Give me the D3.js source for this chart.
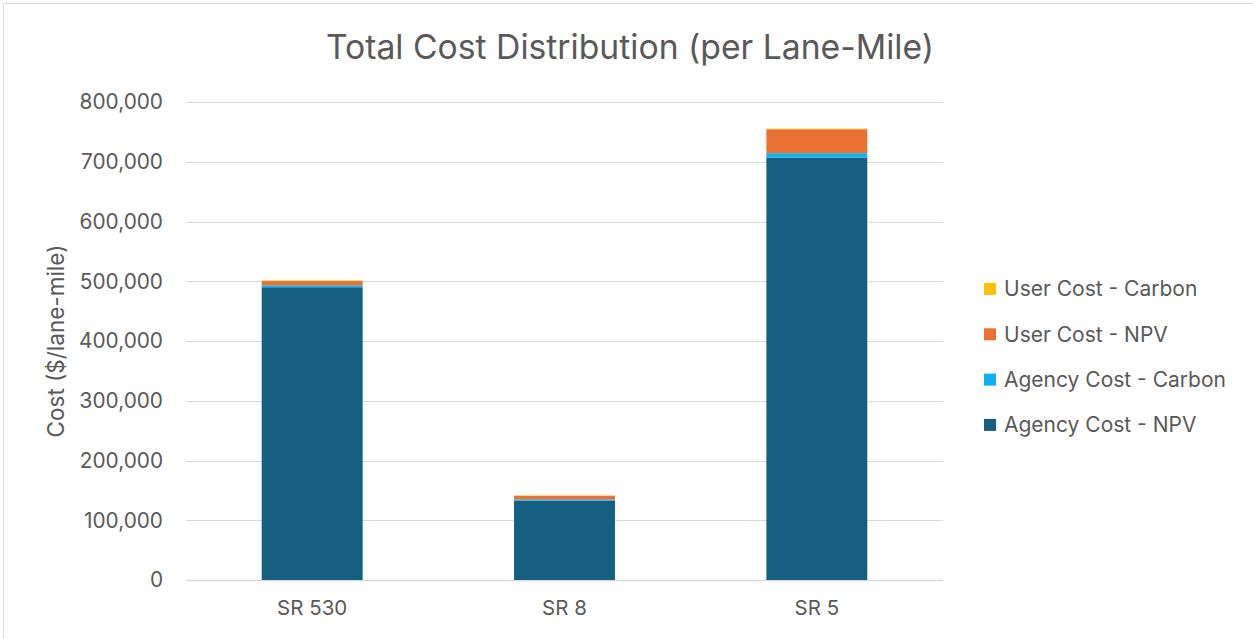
<!DOCTYPE html>
<html>
<head>
<meta charset="utf-8">
<script src="https://cdn.jsdelivr.net/npm/d3@7"></script>
<style>
  body { margin: 0; background: #fff; }
  text { font-family: "Inter", "Open Sans", sans-serif; fill: #595959; }
</style>
</head>
<body>
<script>
const WIDTH = 1253;
const HEIGHT = 639;
const MARGIN = { top: 102, right: 310, bottom: 59, left: 186 };

// data
const routes = ["SR 530", "SR 8", "SR 5"];
const agencyNpv = [490000, 133000, 707000];
const agencyCarbon = [3300, 2000, 7400];
const userNpv = [7000, 6000, 40000];
const userCarbon = [1000, 600, 1000];
const seriesNames = ["Agency Cost - NPV", "Agency Cost - Carbon", "User Cost - NPV", "User Cost - Carbon"];
const seriesColors = ["#156082", "#0fb0f0", "#e97132", "#ffc000"];
const yTicks = [0, 100000, 200000, 300000, 400000, 500000, 600000, 700000, 800000];

const rows = routes.map((r, i) => ({
    route: r,
    [seriesNames[0]]: agencyNpv[i],
    [seriesNames[1]]: agencyCarbon[i],
    [seriesNames[2]]: userNpv[i],
    [seriesNames[3]]: userCarbon[i],
}));

const svg = d3.select("body").append("svg")
    .attr("width", WIDTH)
    .attr("height", HEIGHT);

// chart frame
svg.append("rect")
    .attr("x", 3.5).attr("y", 3.5)
    .attr("width", WIDTH + 10).attr("height", HEIGHT + 10)
    .attr("fill", "none")
    .attr("stroke", "#d9d9d9");

const plotW = 943 - MARGIN.left;
const plotH = 580 - MARGIN.top;

const x = d3.scaleBand().domain(routes).range([0, plotW]).paddingInner(0.6).paddingOuter(0.3);
const y = d3.scaleLinear().domain([0, 800000]).range([plotH, 0]);

const g = svg.append("g").attr("transform", `translate(${MARGIN.left},${MARGIN.top})`);

// gridlines
g.selectAll("line.grid")
    .data(yTicks)
    .join("line")
    .attr("class", "grid")
    .attr("x1", 0).attr("x2", plotW)
    .attr("y1", d => Math.round(y(d)) + 0.5)
    .attr("y2", d => Math.round(y(d)) + 0.5)
    .attr("stroke", "#d9d9d9")
    .attr("stroke-width", d => d === 0 ? 1.5 : 1);

// y labels
g.selectAll("text.ytick")
    .data(yTicks)
    .join("text")
    .attr("class", "ytick")
    .attr("x", -23)
    .attr("y", d => y(d))
    .attr("dy", "0.35em")
    .attr("text-anchor", "end")
    .attr("font-size", 20.8)
    .text(d => d3.format(",")(d));

const stack = d3.stack().keys(seriesNames);
const layers = stack(rows);

g.selectAll("g.layer")
    .data(layers)
    .join("g")
    .attr("class", "layer")
    .attr("fill", (d, i) => seriesColors[i])
    .selectAll("rect")
    .data(d => d)
    .join("rect")
    .attr("x", d => x(d.data.route))
    .attr("width", x.bandwidth())
    .attr("y", d => y(d[1]))
    .attr("height", d => y(d[0]) - y(d[1]));

// x labels
g.selectAll("text.xtick")
    .data(routes)
    .join("text")
    .attr("class", "xtick")
    .attr("x", d => x(d) + x.bandwidth() / 2)
    .attr("y", plotH + 35)
    .attr("text-anchor", "middle")
    .attr("font-size", 20.5)
    .text(d => d);

// y axis title
svg.append("text")
    .attr("transform", `translate(64,${MARGIN.top + plotH / 2}) rotate(-90)`)
    .attr("text-anchor", "middle")
    .attr("font-size", 22.5)
    .text("Cost ($/lane-mile)");

// title
svg.append("text")
    .attr("x", 630)
    .attr("y", 59)
    .attr("text-anchor", "middle")
    .attr("font-family", "'Roboto', sans-serif")
    .attr("font-size", 33.7)
    .text("Total Cost Distribution (per Lane-Mile)");

// legend (reverse order, top = User Cost - Carbon)
const legend = svg.append("g").attr("transform", "translate(984,289)");
const legendItems = seriesNames.map((n, i) => ({ name: n, color: seriesColors[i] })).reverse();
const li = legend.selectAll("g")
    .data(legendItems)
    .join("g")
    .attr("transform", (d, i) => `translate(0,${i * 45.3})`);
li.append("rect")
    .attr("x", 0).attr("y", -6)
    .attr("width", 12).attr("height", 12)
    .attr("fill", d => d.color);
li.append("text")
    .attr("x", 20)
    .attr("dy", "0.35em")
    .attr("font-size", 21)
    .text(d => d.name);
</script>
</body>
</html>
